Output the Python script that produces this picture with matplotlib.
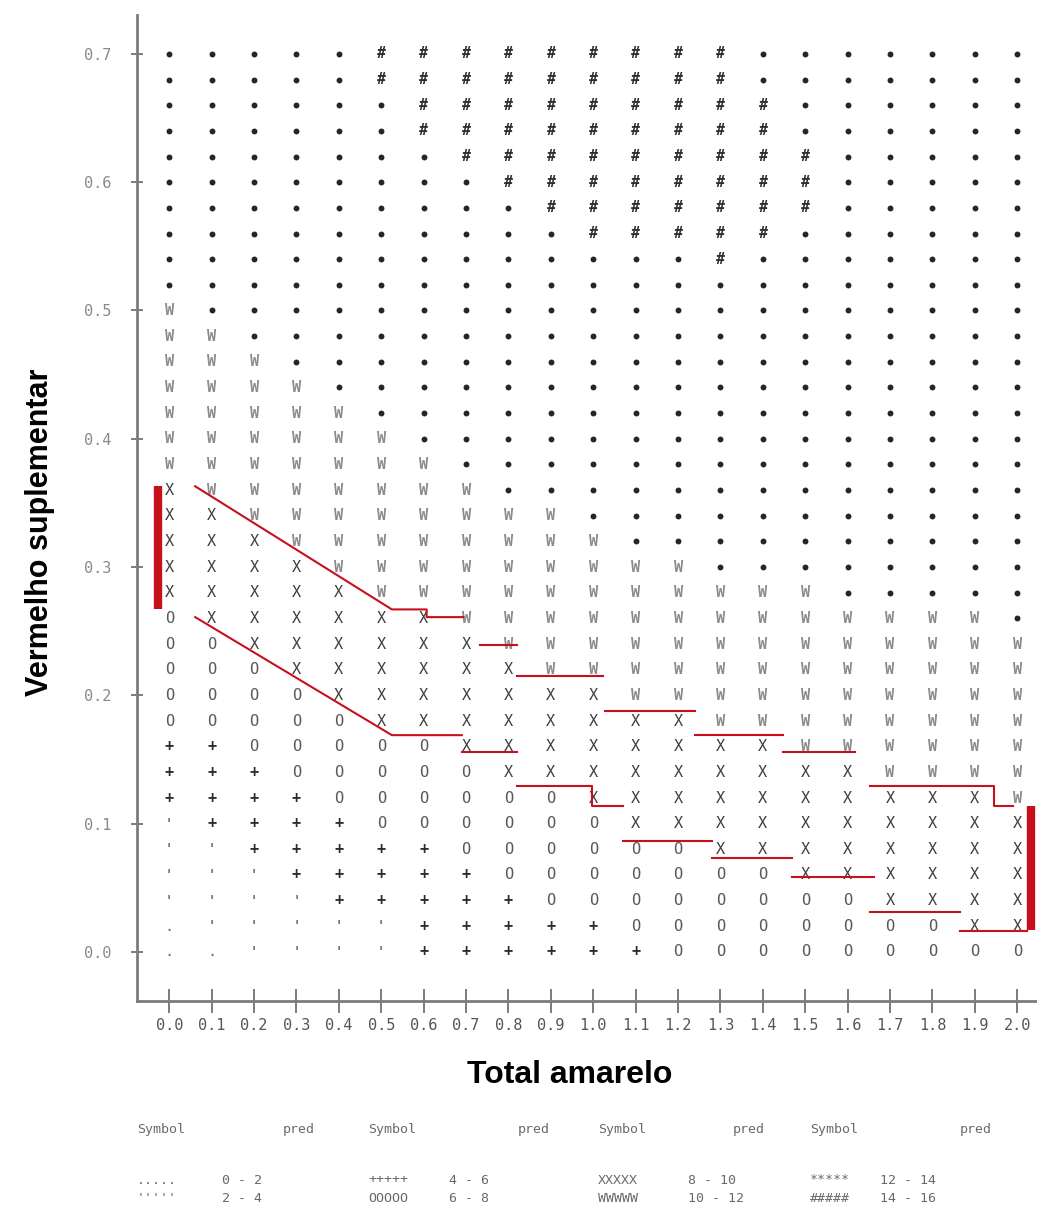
"""
Response surface of pred over Total amarelo x Vermelho suplementar,
printed as a character grid (one symbol per pred band) with the
hand-traced band limits drawn on top in red.
"""
import matplotlib
matplotlib.use("Agg")
import matplotlib.pyplot as plt

# ── grid ──────────────────────────────────────────────────────────────────────
X_GRID = [0.0, 0.1, 0.2, 0.3, 0.4, 0.5, 0.6, 0.7, 0.8, 0.9, 1.0,
          1.1, 1.2, 1.3, 1.4, 1.5, 1.6, 1.7, 1.8, 1.9, 2.0]
Y_GRID = [0.00, 0.02, 0.04, 0.06, 0.08, 0.10, 0.12, 0.14, 0.16, 0.18,
          0.20, 0.22, 0.24, 0.26, 0.28, 0.30, 0.32, 0.34, 0.36, 0.38,
          0.40, 0.42, 0.44, 0.46, 0.48, 0.50, 0.52, 0.54, 0.56, 0.58,
          0.60, 0.62, 0.64, 0.66, 0.68, 0.70]

SYMBOLS = [".", "'", "+", "O", "X", "W", "*", "#"]
PRED_LO = [0, 2, 4, 6, 8, 10, 12, 14]
PRED_HI = [2, 4, 6, 8, 10, 12, 14, 16]

# number of grid rows in each band, per column, counted upward from y = 0
N_DOT      = [2, 1, 0, 0, 0, 0, 0, 0, 0, 0, 0, 0, 0, 0, 0, 0, 0, 0, 0, 0, 0]
N_TICK     = [4, 4, 4, 3, 2, 2, 0, 0, 0, 0, 0, 0, 0, 0, 0, 0, 0, 0, 0, 0, 0]
N_PLUS     = [3, 4, 4, 4, 4, 3, 5, 4, 3, 2, 2, 1, 0, 0, 0, 0, 0, 0, 0, 0, 0]
N_O        = [5, 4, 4, 4, 4, 4, 4, 4, 4, 5, 4, 4, 5, 4, 4, 3, 3, 2, 2, 1, 1]
N_X        = [5, 5, 5, 5, 5, 5, 5, 5, 5, 4, 5, 5, 5, 5, 5, 5, 5, 5, 5, 6, 5]
N_W        = [7, 7, 7, 7, 7, 7, 6, 6, 6, 7, 6, 6, 6, 6, 6, 7, 6, 7, 7, 7, 7]
N_STAR     = [10, 11, 12, 13, 14, 13, 12, 12, 12, 11, 11, 12, 12, 12, 13, 14, 22, 22, 22, 22, 23]
N_HASH     = [0, 0, 0, 0, 0, 2, 4, 5, 6, 7, 8, 8, 8, 9, 6, 3, 0, 0, 0, 0, 0]
N_STAR_TOP = [0, 0, 0, 0, 0, 0, 0, 0, 0, 0, 0, 0, 0, 0, 2, 4, 0, 0, 0, 0, 0]

# red band limits (polylines)
UPPER_X = [[0.061, 0.525, 0.607, 0.607, 0.694], [0.733, 0.820], [0.820, 1.024],
           [1.028, 1.240], [1.240, 1.447], [1.447, 1.618], [1.653, 1.944, 1.944, 1.991]]
UPPER_Y = [[0.363, 0.267, 0.267, 0.261, 0.261], [0.239, 0.239], [0.215, 0.215],
           [0.188, 0.188], [0.169, 0.169], [0.156, 0.156], [0.129, 0.129, 0.114, 0.114]]
LOWER_X = [[0.061, 0.525, 0.690], [0.690, 0.820], [0.820, 0.997, 0.997, 1.071],
           [1.071, 1.280], [1.280, 1.468], [1.468, 1.661], [1.653, 1.866], [1.866, 2.023]]
LOWER_Y = [[0.261, 0.169, 0.169], [0.156, 0.156], [0.129, 0.129, 0.114, 0.114],
           [0.0865, 0.0865], [0.0735, 0.0735], [0.0587, 0.0587], [0.0314, 0.0314], [0.0166, 0.0166]]
BAR_X = [-0.026, 2.033]
BAR_Y0 = [0.267, 0.017]
BAR_Y1 = [0.363, 0.114]

MONO = "DejaVu Sans Mono"
NARROW = ["Liberation Sans Narrow", "Liberation Sans", "DejaVu Sans"]
RED = "#c8101c"

GLYPH_STYLE = {
    ".": dict(color="#6e6e6e", fontsize=11),
    "'": dict(color="#7a7a7a", fontsize=10, fontweight="bold"),
    "+": dict(color="#2c2c2c", fontsize=11, fontweight="bold"),
    "O": dict(color="#5a5a5a", fontsize=11),
    "X": dict(color="#3e3e3e", fontsize=11),
    "W": dict(color="#8c8c8c", fontsize=11, fontweight="bold"),
    "#": dict(color="#2e2e2e", fontsize=10.5, fontweight="bold"),
}


def column_symbols(c):
    runs = [(".", N_DOT[c]), ("'", N_TICK[c]), ("+", N_PLUS[c]), ("O", N_O[c]),
            ("X", N_X[c]), ("W", N_W[c]), ("*", N_STAR[c]), ("#", N_HASH[c]),
            ("*", N_STAR_TOP[c])]
    return [s for s, n in runs for _ in range(n)]


fig = plt.figure(figsize=(10.37, 12.13), dpi=100)
ax = fig.add_axes([0.1321, 0.1748, 0.8679, 0.8128])
ax.set_xlim(-0.0762, 2.0466)
ax.set_ylim(-0.0382, 0.7303)

# character grid
star_x, star_y = [], []
for c, x in enumerate(X_GRID):
    for y, s in zip(Y_GRID, column_symbols(c)):
        if s == "*":
            star_x.append(x)
            star_y.append(y)
        else:
            ax.text(x, y, s, ha="center", va="center", family=MONO, **GLYPH_STYLE[s])
ax.scatter(star_x, star_y, s=18, color="#262626", linewidths=0, zorder=3)

# band limits
for xs, ys in zip(UPPER_X + LOWER_X, UPPER_Y + LOWER_Y):
    ax.plot(xs, ys, color=RED, lw=1.5, zorder=4)
for x, y0, y1 in zip(BAR_X, BAR_Y0, BAR_Y1):
    ax.plot([x, x], [y0, y1], color=RED, lw=6, solid_capstyle="butt", zorder=4)

# axes
for side in ["top", "right"]:
    ax.spines[side].set_visible(False)
for side in ["left", "bottom"]:
    ax.spines[side].set_color("#7c7c7c")
    ax.spines[side].set_linewidth(2)

ax.set_xticks(X_GRID)
ax.set_xticklabels([f"{v:.1f}" for v in X_GRID], family=MONO, fontsize=11, color="#555555")
ax.set_yticks([0.0, 0.1, 0.2, 0.3, 0.4, 0.5, 0.6, 0.7])
ax.set_yticklabels([f"{v:.1f}" for v in [0.0, 0.1, 0.2, 0.3, 0.4, 0.5, 0.6, 0.7]],
                   family=MONO, fontsize=11, color="#8a8a8a")
ax.tick_params(axis="x", direction="inout", length=17, width=1.2, color="#666666", pad=4)
ax.tick_params(axis="y", direction="inout", length=9, width=1.2, color="#666666", pad=14)

fig.text(40 / 1037, 1 - 532 / 1213, "Vermelho suplementar", rotation=90,
         ha="center", va="center", fontsize=22, fontweight="bold", family=NARROW)
fig.text(570 / 1037, 1 - 1075 / 1213, "Total amarelo",
         ha="center", va="center", fontsize=23, fontweight="bold", family=NARROW)

# legend table below the plot
LEG_SYM_X = [137, 368, 598, 810]
LEG_PRED_X = [315, 550, 765, 992]
LEG_RANGE_X = [222, 449, 688, 880]
LEG_ROW_Y = [1180, 1198]
legend_kw = dict(family=MONO, fontsize=9.5, color="#6a6a6a", va="center")
for k in range(4):
    fig.text(LEG_SYM_X[k] / 1037, 1 - 1130 / 1213, "Symbol", ha="left", **legend_kw)
    fig.text(LEG_PRED_X[k] / 1037, 1 - 1130 / 1213, "pred", ha="right", **legend_kw)
    for j in range(2):
        i = 2 * k + j
        fig.text(LEG_SYM_X[k] / 1037, 1 - LEG_ROW_Y[j] / 1213, SYMBOLS[i] * 5, ha="left", **legend_kw)
        fig.text(LEG_RANGE_X[k] / 1037, 1 - LEG_ROW_Y[j] / 1213,
                 f"{PRED_LO[i]} - {PRED_HI[i]}", ha="left", **legend_kw)

fig.savefig("out.png", dpi=100)
